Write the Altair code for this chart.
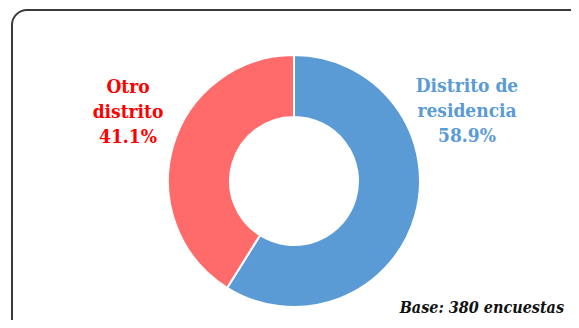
import altair as alt
import pandas as pd

categories = ["Distrito de residencia", "Otro distrito"]
values = [58.9, 41.1]
label_lines = ["Distrito de\nresidencia", "Otro\ndistrito"]
slice_colors = ["#5B9BD5", "#FF6B6B"]
text_colors = ["#5B9BD5", "#FF0000"]
base_note = "Base: 380 encuestas"

SERIF = "'DejaVu Serif Condensed', 'DejaVu Serif', serif"

df = pd.DataFrame({
    "cat": categories,
    "value": values,
    "label": label_lines,
    "idx": list(range(len(categories))),
})

W, H = 563, 312
CX, CY = 286, 173

frame = alt.Chart(alt.Data(values=[{"k": 1}])).mark_rect(
    fill=None, stroke="#3a3a3a", strokeWidth=2, cornerRadius=15
).encode(
    x=alt.value(4), x2=alt.value(620), y=alt.value(2), y2=alt.value(340)
)

base = alt.Chart(df)

donut = base.mark_arc(
    outerRadius=126, innerRadius=64, stroke="white", strokeWidth=2
).encode(
    theta=alt.Theta("value:Q", stack=True),
    order=alt.Order("idx:Q", sort="ascending"),
    color=alt.Color("cat:N", scale=alt.Scale(domain=categories, range=slice_colors), legend=None),
    x=alt.value(CX), y=alt.value(CY),
)

def label_layer(i, xpos, ypos):
    return base.transform_filter(
        alt.datum.cat == categories[i]
    ).transform_calculate(
        txt=alt.datum.label + "\n" + alt.expr.format(alt.datum.value, ".1f") + "%"
    ).mark_text(
        font=SERIF, fontWeight="bold", fontSize=19,
        lineBreak="\n", lineHeight=25, align="center", baseline="alphabetic",
        color=text_colors[i]
    ).encode(
        text="txt:N", x=alt.value(xpos), y=alt.value(ypos)
    )

blue_lbl = label_layer(0, 459, 84)
red_lbl = label_layer(1, 120, 85)

note = alt.Chart(alt.Data(values=[{"t": base_note}])).mark_text(
    font=SERIF, fontWeight="bold", fontStyle="italic", fontSize=16,
    align="right", baseline="alphabetic", color="#111111"
).encode(text="t:N", x=alt.value(556), y=alt.value(305))

chart = alt.layer(frame, donut, blue_lbl, red_lbl, note).properties(
    width=W, height=H, autosize=alt.AutoSizeParams(type="none"), padding=0
).configure_view(stroke=None)

chart.save("out.html", embed_options={"renderer": "svg", "actions": False})
